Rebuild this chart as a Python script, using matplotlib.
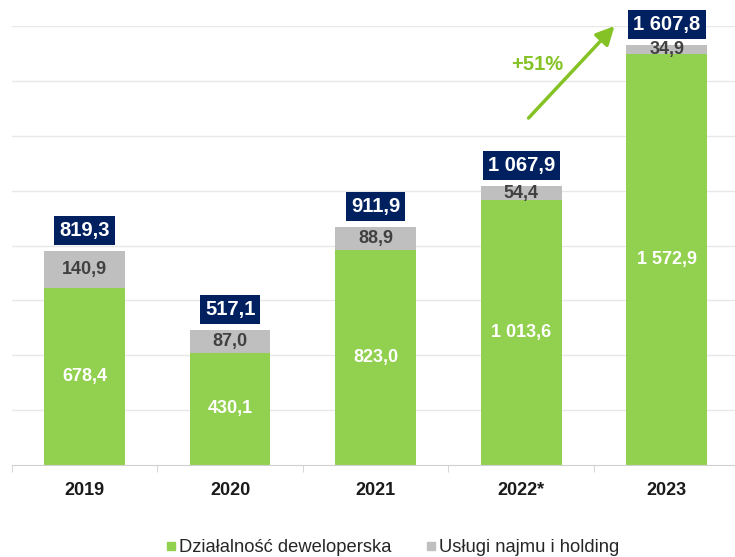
import matplotlib
matplotlib.use("Agg")
import matplotlib.pyplot as plt
from matplotlib.lines import Line2D
import numpy as np

plt.rcParams["font.family"] = ["Liberation Sans", "DejaVu Sans"]

# data
years = ["2019", "2020", "2021", "2022*", "2023"]
dev = [678.4, 430.1, 823.0, 1013.6, 1572.9]
rent = [140.9, 87.0, 88.9, 54.4, 34.9]
totals = [819.3, 517.1, 911.9, 1067.9, 1607.8]
dev_labels = ["678,4", "430,1", "823,0", "1 013,6", "1 572,9"]
rent_labels = ["140,9", "87,0", "88,9", "54,4", "34,9"]
total_labels = ["819,3", "517,1", "911,9", "1 067,9", "1 607,8"]
growth_label = "+51%"

GREEN = "#92D050"
GREY = "#BFBFBF"
NAVY = "#002060"
ARROW = "#84C225"

fig = plt.figure(figsize=(7.35, 5.57), dpi=100)
ax = fig.add_axes([0.0159, 0.1652, 0.9905, 0.788])

x = np.arange(len(years))
w = 0.555
ax.bar(x, dev, w, color=GREEN, zorder=2)
ax.bar(x, rent, w, bottom=dev, color=GREY, zorder=2)

for i in range(len(years)):
    ax.text(x[i], dev[i] / 2, dev_labels[i], ha="center", va="center",
            color="white", fontsize=13, fontweight="bold", zorder=3)
    ax.text(x[i], dev[i] + rent[i] / 2, rent_labels[i], ha="center", va="center",
            color="#404040", fontsize=13, fontweight="bold", zorder=3)
    ax.annotate(total_labels[i], (x[i], totals[i]), xytext=(0, 8),
                textcoords="offset points", ha="center", va="bottom",
                color="white", fontsize=14.5, fontweight="bold", zorder=4,
                annotation_clip=False,
                bbox=dict(boxstyle="square,pad=0.25", fc=NAVY, ec="none"))

# growth arrow 2022 -> 2023
ax.annotate("", xy=(3.64, 1680), xytext=(3.05, 1328),
            arrowprops=dict(arrowstyle="-|>,head_length=1.1,head_width=0.55",
                            color=ARROW, lw=2.5, shrinkA=0, shrinkB=0),
            annotation_clip=False, zorder=5)
ax.text(3.11, 1531, growth_label, ha="center", va="center", color=ARROW,
        fontsize=14.5, fontweight="bold")

ax.set_xlim(-0.5, len(years) - 0.5)
ax.set_ylim(0, 1680)
ax.set_yticks(np.arange(210, 1681, 210))
ax.yaxis.grid(True, color="#E8E8E8", lw=1, zorder=0)
ax.tick_params(axis="y", left=False, labelleft=False)
for s in ("top", "right", "left"):
    ax.spines[s].set_visible(False)
ax.spines["bottom"].set_color("#D0D0D0")
ax.set_xticks(x)
ax.set_xticklabels(years, fontsize=13, fontweight="bold", color="#1a1a1a")
ax.tick_params(axis="x", which="major", length=0, pad=12)
ax.set_xticks(np.arange(-0.5, len(years), 1.0), minor=True)
ax.tick_params(axis="x", which="minor", length=5, color="#D0D0D0")

handles = [Line2D([], [], ls="none", marker="s", ms=6, mfc=GREEN, mec=GREEN),
           Line2D([], [], ls="none", marker="s", ms=6, mfc=GREY, mec=GREY)]
fig.legend(handles, ["Działalność deweloperska", "Usługi najmu i holding"],
           loc="center", bbox_to_anchor=(0.534, 0.017), ncol=2, frameon=False,
           fontsize=13.2, handlelength=0.5, handletextpad=0.2, columnspacing=1.9,
           labelcolor="#262626")

fig.savefig("out.png", dpi=100)
